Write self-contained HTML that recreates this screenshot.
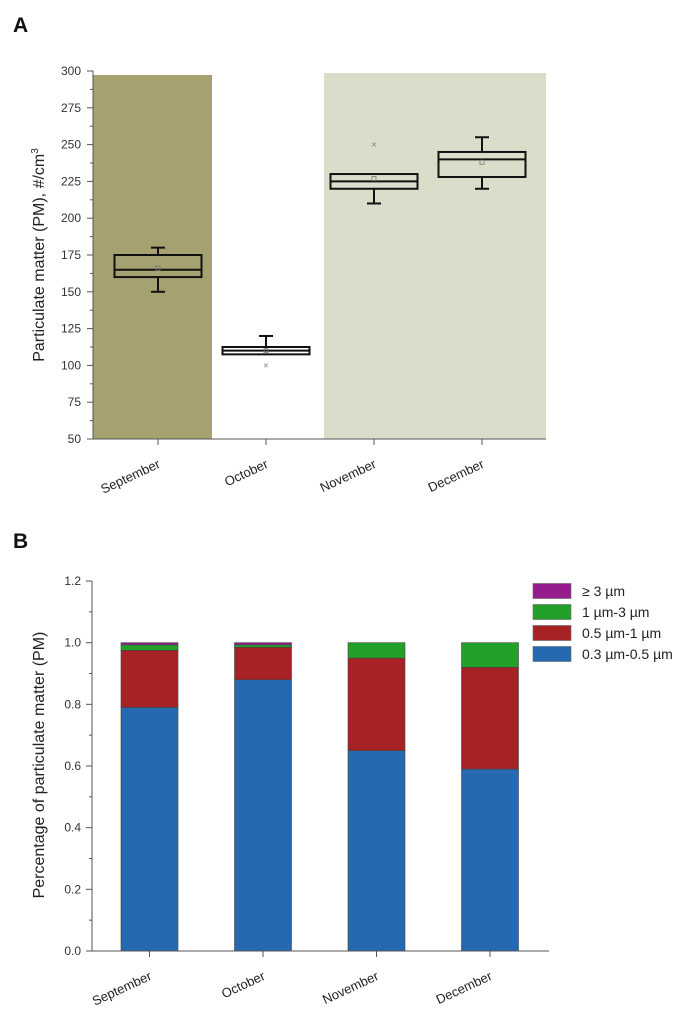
<!DOCTYPE html>
<html><head><meta charset="utf-8"><style>
body{margin:0;background:#fff;font-family:"Liberation Sans",sans-serif}
svg text{font-family:"Liberation Sans",sans-serif}
</style></head><body>
<svg id="s" width="700" height="1031" xmlns="http://www.w3.org/2000/svg">
<text x="13" y="32" font-size="21" font-weight="bold" fill="#111">A</text>
<text x="13" y="548" font-size="21" font-weight="bold" fill="#111">B</text>
<g id="ga"></g>
<g id="gb"></g>
</svg>
<script>
const months=["September","October","November","December"];
// Chart A
const boxLow=[150,108,210,220];
const boxQ1=[160,107.5,220,228];
const boxMed=[165,110,225,240];
const boxQ3=[175,112.5,230,245];
const boxHigh=[180,120,230,255];
const boxMean=[166,110,227,238];
const boxOutlier=[[],[100],[250],[]];
const aTicks=[50,75,100,125,150,175,200,225,250,275,300];
// Chart B
const fine=[0.79,0.88,0.65,0.59];
const mid=[0.185,0.105,0.30,0.33];
const coarse=[0.018,0.008,0.05,0.08];
const large=[0.007,0.007,0,0];
const bTicks=[0,0.2,0.4,0.6,0.8,1.0,1.2];
const NS="http://www.w3.org/2000/svg";
function mk(p,t,a,txt){const e=document.createElementNS(NS,t);for(const k in a)e.setAttribute(k,a[k]);if(txt!==undefined)e.textContent=txt;p.appendChild(e);return e;}
const ga=document.getElementById('ga'),gb=document.getElementById('gb');
// A axes
const ax0=93,ax1=546,ayb=439,ayt=71;
const ya=v=>ayb-(v-50)*(ayb-ayt)/250;
const xa=i=>158+i*108;
let e;
e=mk(ga,'rect',{x:ax0,y:75,width:212-ax0,height:ayb-75,fill:'#a5a170'});

e=mk(ga,'rect',{x:324,y:73,width:ax1-324,height:ayb-73,fill:'#dcdccb'});

for(let i=0;i<4;i++){
 const x=xa(i),w=87,g=mk(ga,'g',{stroke:'#111','stroke-width':2,fill:'none'});
 
 mk(g,'line',{x1:x,x2:x,y1:ya(boxHigh[i]),y2:ya(boxQ3[i])});
 mk(g,'line',{x1:x,x2:x,y1:ya(boxLow[i]),y2:ya(boxQ1[i])});
 if(boxHigh[i]>boxQ3[i])mk(g,'line',{x1:x-7,x2:x+7,y1:ya(boxHigh[i]),y2:ya(boxHigh[i])});
 if(boxLow[i]<boxQ1[i])mk(g,'line',{x1:x-7,x2:x+7,y1:ya(boxLow[i]),y2:ya(boxLow[i])});
 mk(g,'rect',{x:x-w/2,y:ya(boxQ3[i]),width:w,height:ya(boxQ1[i])-ya(boxQ3[i])});
 mk(g,'line',{x1:x-w/2,x2:x+w/2,y1:ya(boxMed[i]),y2:ya(boxMed[i])});
 mk(g,'rect',{x:x-2,y:ya(boxMean[i])-2,width:4,height:4,stroke:'#777','stroke-width':0.8});
 boxOutlier[i].forEach(o=>{mk(g,'text',{x:x,y:ya(o)+3,'font-size':9,'text-anchor':'middle',fill:'#777',stroke:'none'},'×');});
}
mk(ga,'line',{x1:ax0,x2:ax0,y1:ayt,y2:ayb,stroke:'#555','stroke-width':1});
mk(ga,'line',{x1:ax0,x2:ax1,y1:ayb,y2:ayb,stroke:'#555','stroke-width':1});
aTicks.forEach((t,k)=>{const y=ya(t);mk(ga,'line',{x1:ax0-6,x2:ax0,y1:y,y2:y,stroke:'#555'});
 if(k<aTicks.length-1){const y2=ya(t+12.5);mk(ga,'line',{x1:ax0-3,x2:ax0,y1:y2,y2:y2,stroke:'#555'});}
 e=mk(ga,'text',{x:81,y:y+4,'font-size':12,'text-anchor':'end',fill:'#333'},String(t));
 });
months.forEach((m,i)=>{const x=xa(i);mk(ga,'line',{x1:x,x2:x,y1:ayb,y2:ayb+6,stroke:'#555'});
 e=mk(ga,'text',{x:x+3,y:ayb+28,'font-size':13,'text-anchor':'end',fill:'#222',transform:`rotate(-25 ${x+3} ${ayb+28})`},m);
 });
e=mk(ga,'text',{x:44,y:255,'font-size':16,'text-anchor':'middle',fill:'#222',transform:'rotate(-90 44 255)'});
e.innerHTML='Particulate matter (PM), #/cm<tspan dy="-6" font-size="10">3</tspan>';

// B
const bx0=92,bx1=549,byb=951,byt=581;
const yb=v=>byb-v*(byb-byt)/1.2;
const xb=i=>149.5+i*113.5;
const series=[[fine,'#2569b0','0.3 µm-0.5 µm'],[mid,'#a72224','0.5 µm-1 µm'],[coarse,'#22a02a','1 µm-3 µm'],[large,'#961c8e','≥ 3 µm']];
for(let i=0;i<4;i++){let base=0;
 series.forEach((s,k)=>{const v=s[0][i];if(v<=0)return;
  e=mk(gb,'rect',{x:xb(i)-28.5,y:yb(base+v),width:57,height:yb(base)-yb(base+v),fill:s[1],stroke:'#444','stroke-width':0.6});
  
  base+=v;});}
mk(gb,'line',{x1:bx0,x2:bx0,y1:byt,y2:byb,stroke:'#555'});
mk(gb,'line',{x1:bx0,x2:bx1,y1:byb,y2:byb,stroke:'#555'});
bTicks.forEach((t,k)=>{const y=yb(t);mk(gb,'line',{x1:bx0-6,x2:bx0,y1:y,y2:y,stroke:'#555'});
 if(k<bTicks.length-1){const y2=yb(t+0.1);mk(gb,'line',{x1:bx0-3,x2:bx0,y1:y2,y2:y2,stroke:'#555'});}
 e=mk(gb,'text',{x:81,y:y+4,'font-size':12,'text-anchor':'end',fill:'#333'},t.toFixed(1));
 });
months.forEach((m,i)=>{const x=xb(i);mk(gb,'line',{x1:x,x2:x,y1:byb,y2:byb+6,stroke:'#555'});
 e=mk(gb,'text',{x:x+3,y:byb+28,'font-size':13,'text-anchor':'end',fill:'#222',transform:`rotate(-25 ${x+3} ${byb+28})`},m);
 });
e=mk(gb,'text',{x:44,y:765,'font-size':16,'text-anchor':'middle',fill:'#222',transform:'rotate(-90 44 765)'},'Percentage of particulate matter (PM)');

[3,2,1,0].forEach((k,r)=>{const y=591+r*21;
 e=mk(gb,'rect',{x:533,y:y-7.5,width:38,height:15,fill:series[k][1],stroke:'#666','stroke-width':0.6});
 
 e=mk(gb,'text',{x:582,y:y+5,'font-size':14,fill:'#222'},series[k][2]);
 });
</script>
</body></html>
